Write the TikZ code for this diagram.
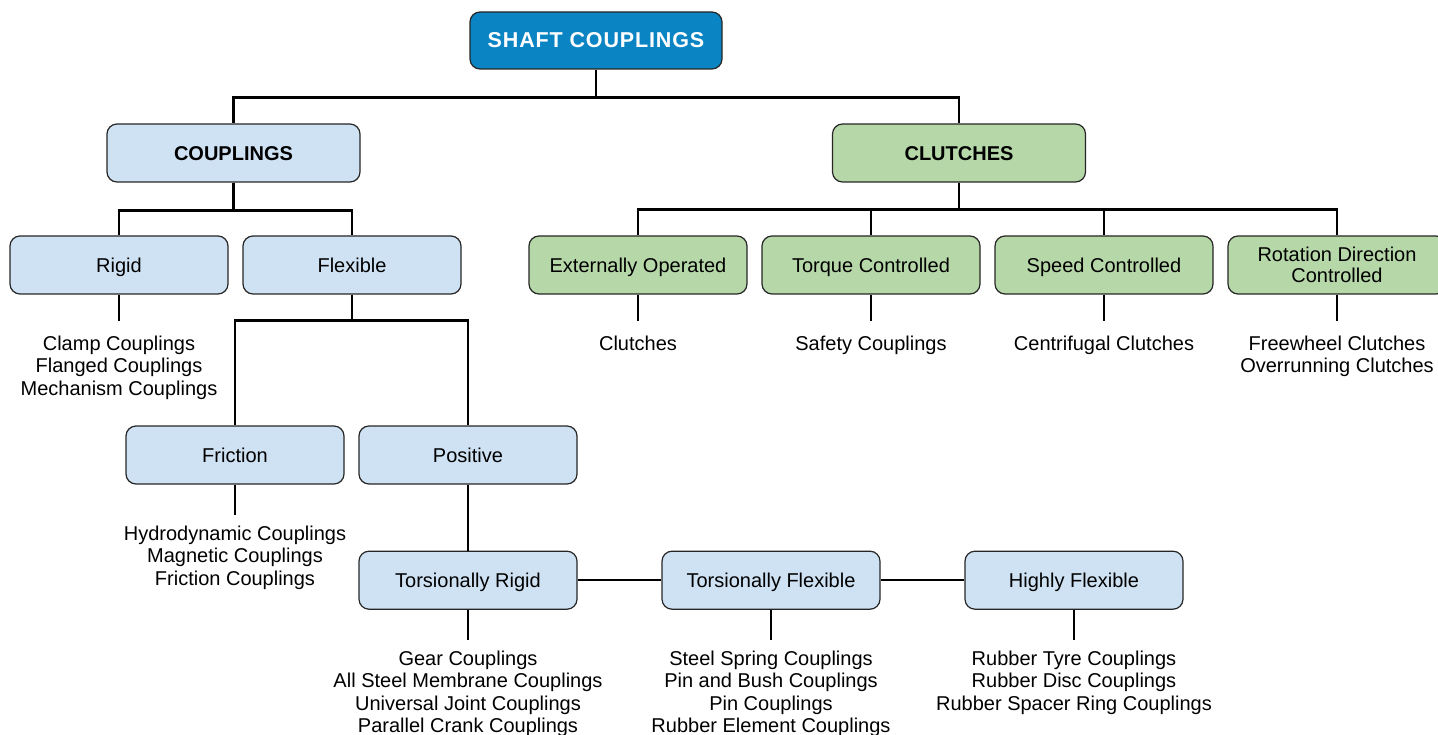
\documentclass[tikz,border=0pt]{standalone}
\usepackage{fontspec}
\setmainfont{Liberation Sans}
\usepackage{xcolor}
\usetikzlibrary{positioning}
\definecolor{ctop}{HTML}{0B84C4}
\definecolor{cpale}{HTML}{CFE2F3}
\definecolor{cgrn}{HTML}{B6D7A8}
\tikzset{
  kind/.style={rectangle, rounded corners=10pt, draw=black!85, line width=1.2pt,
    fill=cpale, minimum width=218pt, minimum height=58pt, align=center,
    inner sep=2pt, font=\fontsize{20}{21}\selectfont},
  one/.style={text height=14.4pt, text depth=0pt},
  head/.style={kind, one, minimum width=253pt, font=\fontsize{20}{21}\selectfont\bfseries},
  clutch/.style={kind, fill=cgrn},
  root/.style={kind, one, fill=ctop, text=white, minimum width=252pt, minimum height=57pt,
    font=\fontsize{21.5}{22}\selectfont\bfseries\addfontfeature{LetterSpace=4}},
  items/.style={align=center, inner sep=0pt, font=\fontsize{20}{22.5}\selectfont},
  link/.style={line width=2.4pt, draw=black},
}

\begin{document}
\begin{tikzpicture}[x=1pt, y=-1pt]
  \useasboundingbox (0,0) rectangle (1438,735);

  \node[root] (shaft) at (596,40.5) {SHAFT COUPLINGS};
  \node[head] (coup) at (233.5,153) {COUPLINGS};
  \node[head, fill=cgrn] (clut) at (959,153) {CLUTCHES};

  \node[kind, one] (rigid) at (119,265) {Rigid};
  \node[kind, one, right=13.8pt of rigid] (flex) {Flexible};
  \node[kind, one] (fric) at (235,455) {Friction};
  \node[kind, one, right=13.8pt of fric] (pos) {Positive};
  \node[kind, one, below=66pt of pos] (trig) {Torsionally Rigid};
  \node[kind, one, right=83.8pt of trig] (tflex) {Torsionally Flexible};
  \node[kind, one, right=83.8pt of tflex] (hflex) {Highly Flexible};

  \node[clutch, one] (ext) at (638,265) {Externally Operated};
  \node[clutch, one, right=13.8pt of ext] (torq) {Torque Controlled};
  \node[clutch, one, right=13.8pt of torq] (speed) {Speed Controlled};
  \node[clutch, right=13.8pt of speed] (rot) {Rotation Direction\\Controlled};

  % lists of types
  \node[items, below=41pt of rigid] (rigidl) {Clamp Couplings\\Flanged Couplings\\Mechanism Couplings};
  \node[items, below=41pt of fric] (fricl) {Hydrodynamic Couplings\\Magnetic Couplings\\Friction Couplings};
  \node[items, below=41pt of trig] (trigl) {Gear Couplings\\All Steel Membrane Couplings\\Universal Joint Couplings\\Parallel Crank Couplings};
  \node[items, below=41pt of tflex] (tflexl) {Steel Spring Couplings\\Pin and Bush Couplings\\Pin Couplings\\Rubber Element Couplings};
  \node[items, below=41pt of hflex] (hflexl) {Rubber Tyre Couplings\\Rubber Disc Couplings\\Rubber Spacer Ring Couplings};
  \node[items, below=41pt of ext] (extl) {Clutches};
  \node[items, below=41pt of torq] (torql) {Safety Couplings};
  \node[items, below=41pt of speed] (speedl) {Centrifugal Clutches};
  \node[items, below=41pt of rot] (rotl) {Freewheel Clutches\\Overrunning Clutches};

  % tree
  \draw[link] (shaft.south) -- ++(0,28) -| (coup);
  \draw[link] (shaft.south) -- ++(0,28) -| (clut);
  \draw[link] (coup.south) -- ++(0,28) -| (rigid);
  \draw[link] (coup.south) -- ++(0,28) -| (flex);
  \draw[link] (flex.south) -- ++(0,26) -| (fric);
  \draw[link] (flex.south) -- ++(0,26) -| (pos);
  \draw[link] (pos) -- (trig);
  \draw[link] (trig) -- (tflex); \draw[link] (tflex) -- (hflex);
  \foreach \k in {ext,torq,speed,rot}
    \draw[link] (clut.south) -- ++(0,27) -| (\k);

  % stubs to lists
  \foreach \k in {rigid,ext,torq,speed,rot}
    \draw[link, shorten >=15pt] (\k) -- (\k l);
  \foreach \k in {fric,trig,tflex,hflex}
    \draw[link, shorten >=11pt] (\k) -- (\k l);
\end{tikzpicture}
\end{document}
